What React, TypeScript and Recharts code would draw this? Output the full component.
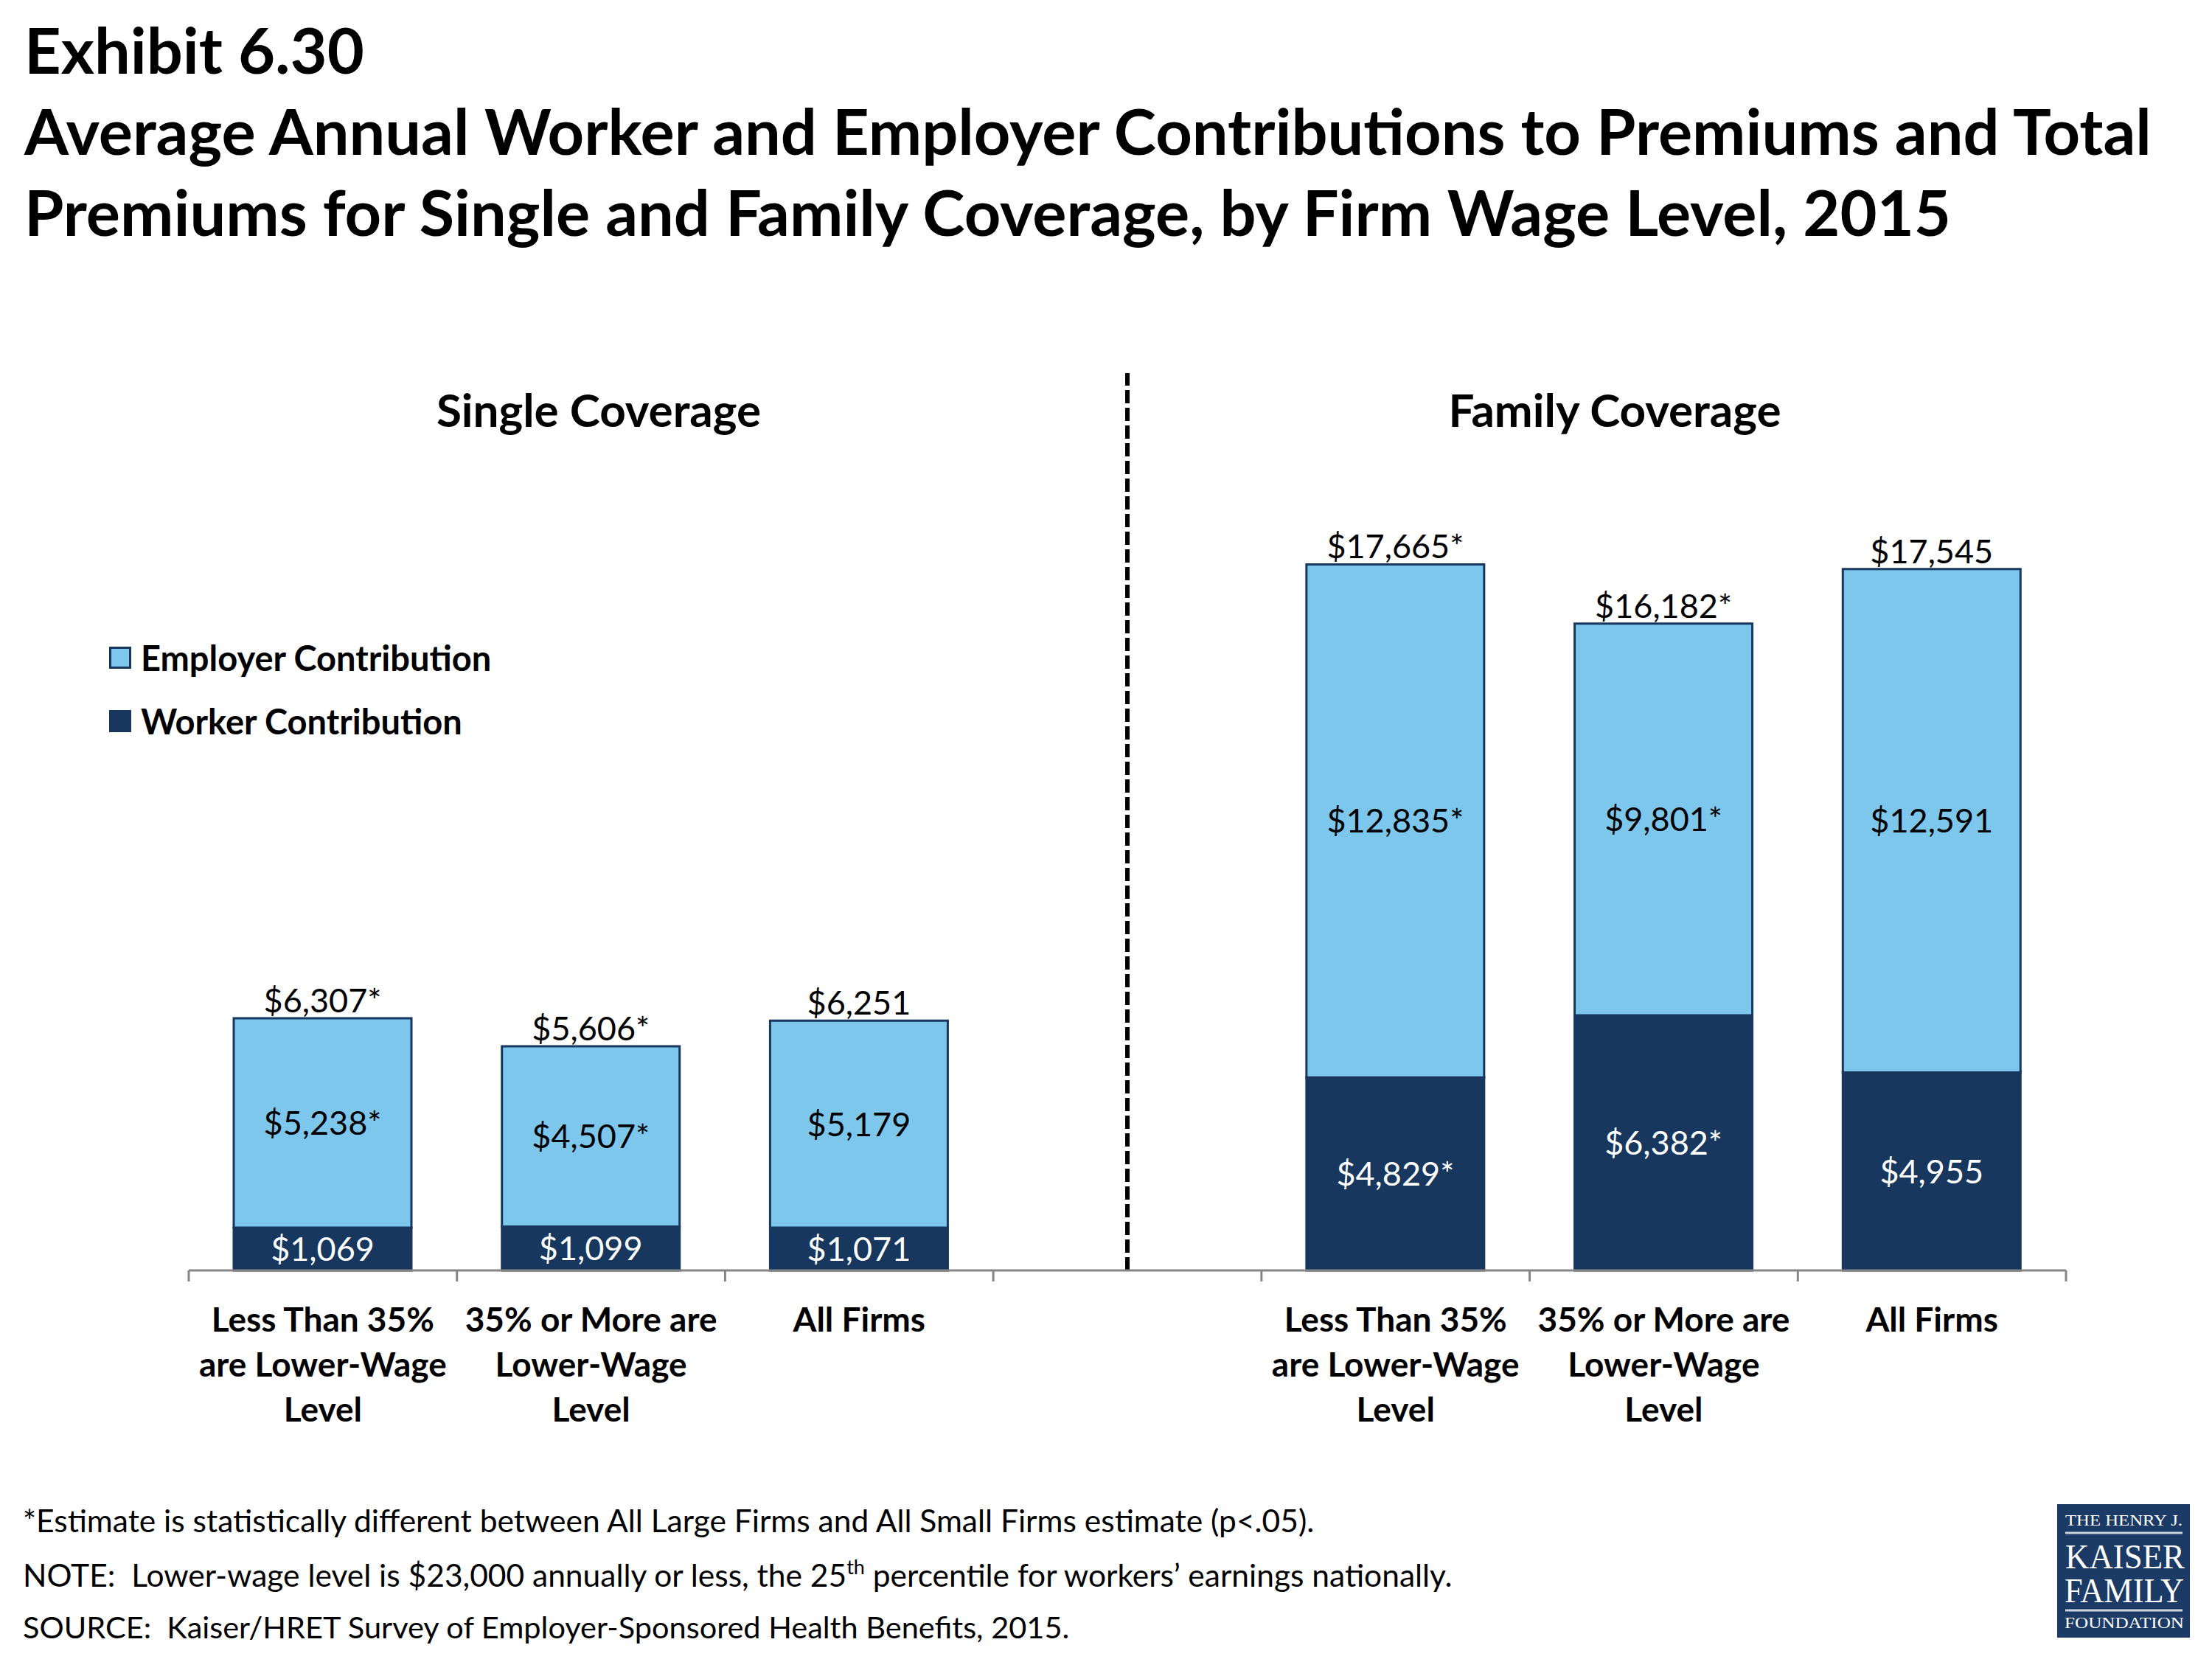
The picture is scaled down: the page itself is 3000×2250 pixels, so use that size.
import React from "react";
import { BarChart, Bar, XAxis, YAxis, LabelList, ReferenceLine, Legend } from "recharts";

// ---------- data ----------
const coverageGroups = ["Single Coverage", "Family Coverage"];
const firmCategories: string[][] = [
  ["Less Than 35%", "are Lower-Wage", "Level"],
  ["35% or More are", "Lower-Wage", "Level"],
  ["All Firms"],
];
const singleWorker = [1069, 1099, 1071];
const singleEmployer = [5238, 4507, 5179];
const singleTotal = [6307, 5606, 6251];
const singleWorkerSig = [false, false, false];
const singleEmployerSig = [true, true, false];
const singleTotalSig = [true, true, false];

const familyWorker = [4829, 6382, 4955];
const familyEmployer = [12835, 9801, 12591];
const familyTotal = [17665, 16182, 17545];
const familyWorkerSig = [true, true, false];
const familyEmployerSig = [true, true, false];
const familyTotalSig = [true, true, false];

const seriesNames = { worker: "Worker Contribution", employer: "Employer Contribution" };
const legendOrder = ["employer", "worker"];

const titleLines = [
  "Exhibit 6.30",
  "Average Annual Worker and Employer Contributions to Premiums and Total",
  "Premiums for Single and Family Coverage, by Firm Wage Level, 2015",
];
const footnote1 = "*Estimate is statistically different between All Large Firms and All Small Firms estimate (p<.05).";
const footnote2a = "NOTE:  Lower-wage level is $23,000 annually or less, the 25";
const footnote2sup = "th";
const footnote2b = " percentile for workers\u2019 earnings nationally.";
const footnote3 = "SOURCE:  Kaiser/HRET Survey of Employer-Sponsored Health Benefits, 2015.";

// ---------- styling / layout ----------
const W = 3000;
const H = 2250;
const PLOT_L = 256;
const PLOT_R = 2802;
const PLOT_T = 506;
const PLOT_B = 1723;
const X_AXIS_H = 30;
const Y_MAX = 22450;
const LIGHT = "#7DC6EC";
const NAVY = "#17375E";
const AXIS_GRAY = "#868686";
const FONT = "Lato, 'Open Sans', sans-serif";

const fmt = (v: number, sig: boolean) => "$" + v.toLocaleString("en-US") + (sig ? "*" : "");

type Row = {
  id: string;
  lines: string[];
  worker?: number;
  employer?: number;
  workerLabel?: string;
  employerLabel?: string;
  totalLabel?: string;
};

const buildRows = (
  prefix: string,
  worker: number[],
  employer: number[],
  total: number[],
  wSig: boolean[],
  eSig: boolean[],
  tSig: boolean[]
): Row[] =>
  firmCategories.map((lines, i) => ({
    id: `${prefix}${i}`,
    lines,
    worker: worker[i],
    employer: employer[i],
    workerLabel: fmt(worker[i], wSig[i]),
    employerLabel: fmt(employer[i], eSig[i]),
    totalLabel: fmt(total[i], tSig[i]),
  }));

const rows: Row[] = [
  ...buildRows("s", singleWorker, singleEmployer, singleTotal, singleWorkerSig, singleEmployerSig, singleTotalSig),
  { id: "gap", lines: [] },
  ...buildRows("f", familyWorker, familyEmployer, familyTotal, familyWorkerSig, familyEmployerSig, familyTotalSig),
];

const BAND = (PLOT_R - PLOT_L) / rows.length;

const CategoryTick = (props: any) => {
  const { x, y, payload } = props;
  const idx = payload.index;
  const row = rows[idx];
  return (
    <g>
      <line x1={x - BAND / 2} y1={y} x2={x - BAND / 2} y2={y + 15} stroke={AXIS_GRAY} strokeWidth={3} />
      {idx === rows.length - 1 && (
        <line x1={x + BAND / 2} y1={y} x2={x + BAND / 2} y2={y + 15} stroke={AXIS_GRAY} strokeWidth={3} />
      )}
      {row &&
        row.lines.map((l, i) => (
          <text
            key={i}
            x={x}
            y={y + 83 + i * 61}
            textAnchor="middle"
            fontFamily={FONT}
            fontWeight={700}
            fontSize={46}
            fill="#000"
          >
            {l}
          </text>
        ))}
    </g>
  );
};

const LegendContent = (props: any) => {
  const items = [...(props.payload || [])].sort(
    (a: any, b: any) => legendOrder.indexOf(a.dataKey) - legendOrder.indexOf(b.dataKey)
  );
  return (
    <div style={{ fontFamily: FONT }}>
      {items.map((it: any) => {
        const isEmployer = it.dataKey === "employer";
        return (
          <div key={it.dataKey} style={{ height: 86, display: "flex", alignItems: "center" }}>
            <span
              style={{
                display: "inline-block",
                width: 30,
                height: 30,
                boxSizing: "border-box",
                background: isEmployer ? LIGHT : NAVY,
                border: `3px solid ${NAVY}`,
                marginRight: 13,
              }}
            />
            <span style={{ fontSize: 47, fontWeight: 700, color: "#000", lineHeight: "47px" }}>{it.value}</span>
          </div>
        );
      })}
    </div>
  );
};

const fnStyle = { whiteSpace: "pre" as const };

export default function App() {
  return (
    <div style={{ position: "absolute", left: 0, top: 0, width: W, height: H, background: "#fff", fontFamily: FONT }}>
      <svg width={W} height={H} style={{ position: "absolute", left: 0, top: 0 }}>
        {titleLines.map((t, i) => (
          <text key={i} x={33} y={100 + i * 110} fontFamily={FONT} fontWeight={700} fontSize={86.5} fill="#000">
            {t}
          </text>
        ))}
        <text x={812} y={579} textAnchor="middle" fontFamily={FONT} fontWeight={700} fontSize={62} fill="#000">
          {coverageGroups[0]}
        </text>
        <text x={2190} y={579} textAnchor="middle" fontFamily={FONT} fontWeight={700} fontSize={62} fill="#000">
          {coverageGroups[1]}
        </text>
        <text x={31} y={2078} fontFamily={FONT} fontSize={42.5} fill="#000" style={fnStyle}>
          {footnote1}
        </text>
        <text x={31} y={2152} fontFamily={FONT} fontSize={42.5} fill="#000" style={fnStyle}>
          {footnote2a}
          <tspan fontSize={27} dy={-17}>
            {footnote2sup}
          </tspan>
          <tspan dy={17}>{footnote2b}</tspan>
        </text>
        <text x={31} y={2222} fontFamily={FONT} fontSize={41.5} fill="#000" style={fnStyle}>
          {footnote3}
        </text>
        {/* logo */}
        <rect x={2790} y={2040} width={180} height={181} fill="#1B3A66" />
        <g fill="#fff" fontFamily="'Liberation Serif', 'DejaVu Serif', serif">
          <text x={2801} y={2069} fontSize={21} textLength={159} lengthAdjust="spacingAndGlyphs">
            THE HENRY J.
          </text>
          <text x={2801} y={2127} fontSize={47} textLength={162} lengthAdjust="spacingAndGlyphs">
            KAISER
          </text>
          <text x={2800} y={2173} fontSize={47} textLength={162} lengthAdjust="spacingAndGlyphs">
            FAMILY
          </text>
          <text x={2800} y={2208} fontSize={21} textLength={162} lengthAdjust="spacingAndGlyphs">
            FOUNDATION
          </text>
        </g>
        <line x1={2801} y1={2079} x2={2960} y2={2079} stroke="#C9D2DE" strokeWidth={3} />
        <line x1={2801} y1={2184} x2={2960} y2={2184} stroke="#C9D2DE" strokeWidth={3} />
      </svg>
      <div style={{ position: "absolute", left: 0, top: 0 }}>
        <BarChart
          width={W}
          height={H}
          data={rows}
          margin={{ top: PLOT_T, right: W - PLOT_R, bottom: H - PLOT_B - X_AXIS_H, left: PLOT_L }}
        >
          <XAxis
            dataKey="id"
            height={X_AXIS_H}
            axisLine={{ stroke: AXIS_GRAY, strokeWidth: 3 }}
            tickLine={false}
            tickSize={0}
            tickMargin={0}
            interval={0}
            tick={<CategoryTick />}
          />
          <YAxis hide domain={[0, Y_MAX]} type="number" />
          <ReferenceLine x="gap" stroke="#000" strokeWidth={6} strokeDasharray="18 6" />
          <Legend
            layout="horizontal"
            verticalAlign="middle"
            align="center"
            content={<LegendContent />}
            wrapperStyle={{ left: 148, top: 849, width: 760, height: 172 }}
          />
          <Bar
            dataKey="worker"
            name={seriesNames.worker}
            stackId="a"
            fill={NAVY}
            stroke={NAVY}
            strokeWidth={3}
            barSize={241}
            isAnimationActive={false}
          >
            <LabelList dataKey="workerLabel" position="center" fill="#fff" fontFamily={FONT} fontSize={45} />
          </Bar>
          <Bar
            dataKey="employer"
            name={seriesNames.employer}
            stackId="a"
            fill={LIGHT}
            stroke={NAVY}
            strokeWidth={3}
            barSize={241}
            isAnimationActive={false}
          >
            <LabelList dataKey="employerLabel" position="center" fill="#000" fontFamily={FONT} fontSize={45} />
            <LabelList dataKey="totalLabel" position="top" offset={8} fill="#000" fontFamily={FONT} fontSize={45} />
          </Bar>
        </BarChart>
      </div>
    </div>
  );
}
